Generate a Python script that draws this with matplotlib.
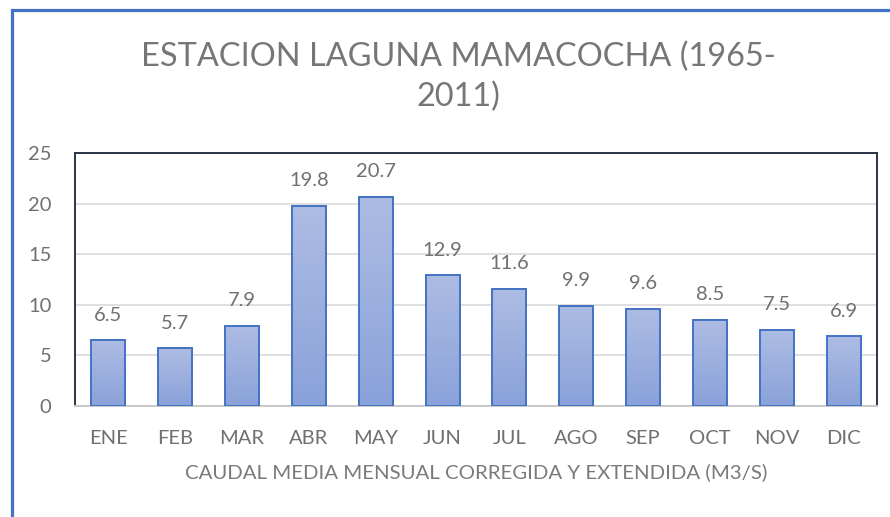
import matplotlib
matplotlib.use("Agg")
import matplotlib.pyplot as plt
import numpy as np
from matplotlib.colors import LinearSegmentedColormap
from matplotlib.patches import Rectangle

months = ["ENE", "FEB", "MAR", "ABR", "MAY", "JUN", "JUL", "AGO", "SEP", "OCT", "NOV", "DIC"]
caudal = [6.5, 5.7, 7.9, 19.8, 20.7, 12.9, 11.6, 9.9, 9.6, 8.5, 7.5, 6.9]
yticks = [0, 5, 10, 15, 20, 25]

title = "ESTACION LAGUNA MAMACOCHA (1965-\n2011)"
xlabel = "CAUDAL MEDIA MENSUAL CORREGIDA Y EXTENDIDA (M3/S)"

plt.rcParams['font.family'] = ['Lato', 'DejaVu Sans']
W, H = 890, 517
fig = plt.figure(figsize=(W / 100, H / 100), dpi=100)
fig.patch.set_facecolor("white")

# outer chart border (blue)
fig.add_artist(Rectangle((12 / W, -0.05), 1.2, (H - 10) / H + 0.05, transform=fig.transFigure,
                         fill=False, edgecolor="#4472C4", linewidth=2.3))

L, R, T, B = 75, 877, 153, 406
ax = fig.add_axes([L / W, (H - B) / H, (R - L) / W, (B - T) / H])
x = np.arange(len(months))
bars = ax.bar(x, caudal, width=0.51, facecolor="none", edgecolor="#4472C4", linewidth=1.4, zorder=3)

cmap = LinearSegmentedColormap.from_list("g", ["#8AA2DA", "#ADBCE3"])
grad = np.linspace(0, 1, 256).reshape(-1, 1)
for b in bars:
    ax.imshow(grad, extent=[b.get_x(), b.get_x() + b.get_width(), 0, b.get_height()],
              origin="lower", aspect="auto", cmap=cmap, zorder=2, interpolation="bilinear")

for b, v in zip(bars, caudal):
    ax.annotate(f"{v}", (b.get_x() + b.get_width() / 2, v), xytext=(0, 12), textcoords="offset points",
                ha="center", va="bottom", fontsize=14.5, color="#707070")

ax.set_xlim(-0.5, len(months) - 0.5)
ax.set_ylim(0, 25)
ax.set_yticks(yticks)
ax.set_xticks(x)
ax.set_xticklabels(months)
ax.tick_params(axis="both", length=0, labelsize=14.5, labelcolor="#707070")
ax.tick_params(axis="y", pad=17)
ax.tick_params(axis="x", pad=17)
ax.yaxis.grid(True, color="#D9D9D9", linewidth=1.2, zorder=0)
ax.set_axisbelow(True)
for s in ["left", "top", "right"]:
    ax.spines[s].set_color("#2B3447")
    ax.spines[s].set_linewidth(1.4)
ax.spines["bottom"].set_color("#C8C8C8")
ax.spines["bottom"].set_linewidth(1.4)

fig.text(458 / W, 1 - 77 / H, title, ha="center", va="center", fontsize=23.4, color="#767676",
         linespacing=1.38)
fig.text(476 / W, 1 - 472 / H, xlabel, ha="center", va="center", fontsize=14.7, color="#7A7A7A")

fig.savefig("out.png", dpi=100, facecolor="white")
